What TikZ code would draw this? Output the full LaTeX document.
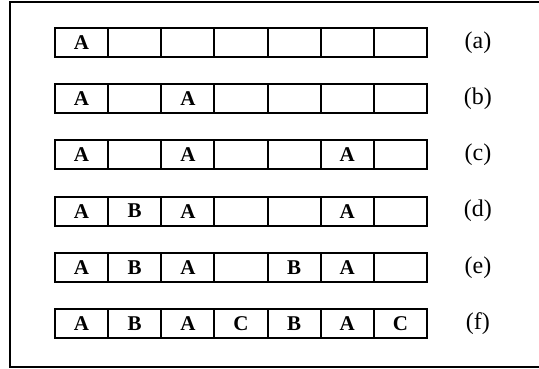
\documentclass[tikz,border=0pt]{standalone}
\usepackage{fontspec}
\setmainfont{Liberation Serif}
\usetikzlibrary{positioning}

\begin{document}
\begin{tikzpicture}[x=1pt, y=1pt,
    cell/.style={rectangle, draw=black, line width=2pt, minimum width=53.14pt,
                 minimum height=29pt, inner sep=0pt,
                 font=\bfseries\fontsize{21}{21}\selectfont},
    caption/.style={font=\fontsize{24}{24}\selectfont},
    frame/.style={draw=black, line width=1.6pt}
]
\useasboundingbox (0,0) rectangle (539,369);
\clip (0,0) rectangle (539,369);

% Outer frame (right side runs off the page)
\draw[frame] (10,2) rectangle (560,367);

% Rows of cells
\foreach \row/\lab [count=\r] in {{A,,,,,,}/a, {A,,A,,,,}/b, {A,,A,,,A,}/c,
                                  {A,B,A,,,A,}/d, {A,B,A,,B,A,}/e, {A,B,A,C,B,A,C}/f} {
    \foreach \t [count=\c] in \row
        \node[cell] (\lab\c) at ({55+53.14*(\c-0.5)}, {326.5-56.2*(\r-1)}) {\t};
    \node[caption, right=50pt of \lab7.east, anchor=center] (cap\lab) {(\lab)};
}

\end{tikzpicture}
\end{document}
